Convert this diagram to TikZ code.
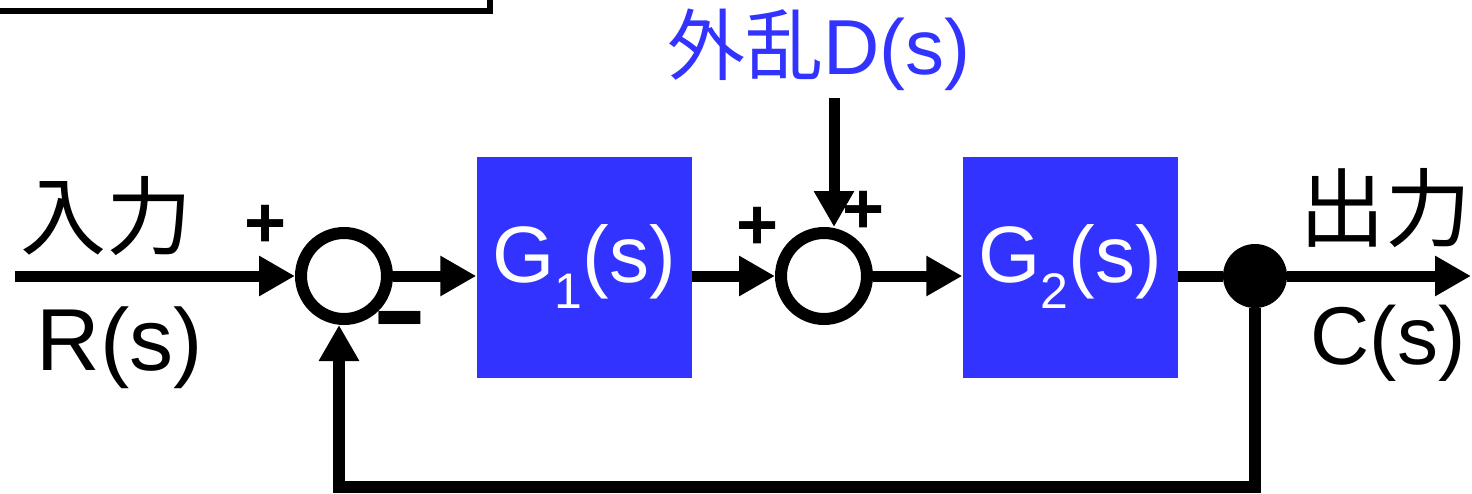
\documentclass[tikz,border=0pt]{standalone}
\usepackage{fontspec}
\setmainfont{Liberation Sans}
\newfontfamily\jpfont{Noto Sans CJK JP}
\usetikzlibrary{arrows.meta,calc,positioning}
\definecolor{BlockBlue}{HTML}{3333FF}
\newcommand\lowidx[1]{\raisebox{-26pt}{\fontsize{50}{50}\selectfont #1}}

\begin{document}
\begin{tikzpicture}[
        x=1pt,y=-1pt,
        block/.style={fill=BlockBlue,minimum width=215pt,minimum height=221pt,inner sep=0pt,text=white,font=\fontsize{80}{88}\selectfont},
        sum/.style={circle,draw=black,line width=12pt,minimum size=86pt,inner sep=0pt},
        junction/.style={circle,fill=black,minimum size=64pt,inner sep=0pt},
        arrow/.style={-{Triangle[length=36pt,width=38pt]},line width=11pt,draw=black},
        wire/.style={line width=11pt,draw=black},
        sign/.style={inner sep=0pt,font=\fontsize{72}{80}\selectfont\bfseries},
        lbl/.style={inner sep=0pt,font=\fontsize{88}{96}\selectfont},
        jplbl/.style={inner sep=0pt,font=\fontsize{86}{96}\selectfont\jpfont}
      ]
        \useasboundingbox (0,0) rectangle (1472,493);
        \draw[line width=6pt] (0,11) -- (490,11) -- (490,0);
        \coordinate (inR) at (15,276);
        \node[sum] (sumA) at (344,276) {};
        \node[block] (blkG1) at (584,267) {G\lowidx{1}(s)};
        \node[sum] (sumB) at (824,276) {};
        \node[block] (blkG2) at (1070,267) {G\lowidx{2}(s)};
        \node[junction] (dotC) at (1255,276) {};
        \coordinate (outC) at (1471,276);
        \coordinate (dTop) at (834,98);
        \coordinate (fbL) at (339,487);
        \node[jplbl] (inLbl) at (106,216) {入力};
        \node[lbl] (rLbl) at (120,348) {R(s)};
        \node[jplbl] (outLbl) at (1385,208) {出力};
        \node[lbl,font=\fontsize{82}{90}\selectfont] (cLbl) at (1388,343) {C(s)};
        \node[inner sep=0pt,text=BlockBlue,font=\fontsize{78}{88}\selectfont] (dLbl) at (819,50) {{\jpfont 外乱}D(s)};
        \node[sign] (plusA) at (266,226) {+};
        \node[sign,font=\fontsize{110}{120}\selectfont\bfseries] (minusA) at (400,329) {\scalebox{1.5}[1]{-}};
        \node[sign] (plusB) at (758,228) {+};
        \node[sign] (plusD) at (864,212) {+};
        \draw[arrow] (inR) -- (sumA.west);
        \draw[arrow] (sumA.east) -- (blkG1.west |- sumA.east);
        \draw[arrow] (blkG1.east |- sumB.west) -- (sumB.west);
        \draw[arrow] (sumB.east) -- (blkG2.west |- sumB.east);
        \draw[wire] (blkG2.east |- dotC) -- (dotC);
        \draw[arrow] (dotC) -- (outC);
        \draw[arrow] (dTop) -- (dTop |- sumB.north);
        \draw[arrow,line width=12pt] (dotC) |- (fbL) -- (fbL |- sumA.south);
      \end{tikzpicture}
\end{document}
